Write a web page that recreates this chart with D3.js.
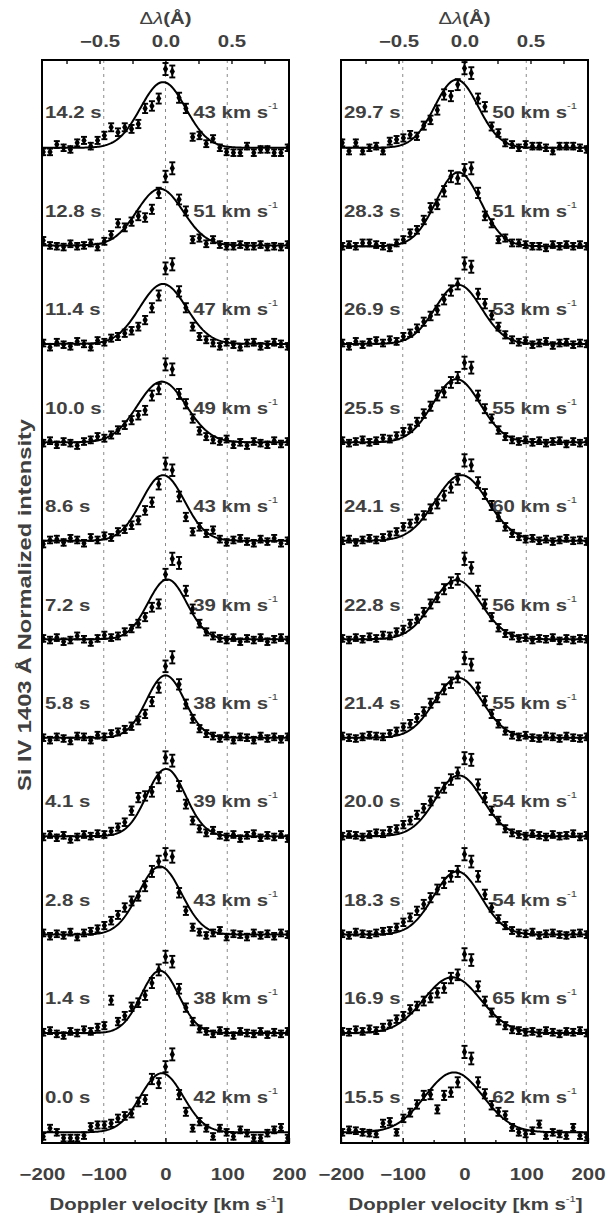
<!DOCTYPE html>
<html>
<head>
<meta charset="UTF-8">
<script src="https://cdn.jsdelivr.net/npm/d3@7"></script>
<style>
    body { margin: 0; background: #fff; }
    text { font-family: "Liberation Sans", Arial, sans-serif; }
</style>
</head>
<body>
<svg id="chart" width="606" height="1222"></svg>
<script>
// Doppler velocity grid of the spectra (km/s)
var velocity = [-198, -187, -176, -165, -154, -143, -132, -121, -110, -99, -88, -77, -66, -55, -44, -33, -22, -11, 0,
    11, 22, 33, 44, 55, 66, 77, 88, 99, 110, 121, 132, 143, 154, 165, 176, 187, 198];

// left panel, top to bottom
var leftTimes = ["14.2 s", "12.8 s", "11.4 s", "10.0 s", "8.6 s", "7.2 s", "5.8 s", "4.1 s", "2.8 s", "1.4 s", "0.0 s"];
var leftWidths = [43, 51, 47, 49, 43, 39, 38, 39, 43, 38, 42];
// gaussian fits: centre, peak, full width at half maximum (km/s), continuum
var leftCenters = [-4, -9, -4, -6, -4, 3, 0, 1, -9, -9, -6];
var leftAmps = [0.80, 0.69, 0.73, 0.74, 0.80, 0.73, 0.76, 0.82, 0.83, 0.76, 0.72];
var leftFwhm = [86, 88, 89, 93, 82, 74, 72, 74, 82, 72, 82];
var leftBase = [0, 0.01, 0.01, 0.01, 0.01, 0.01, 0.01, 0.01, 0.01, 0.01, 0];

// right panel, top to bottom
var rightTimes = ["29.7 s", "28.3 s", "26.9 s", "25.5 s", "24.1 s", "22.8 s", "21.4 s", "20.0 s", "18.3 s", "16.9 s", "15.5 s"];
var rightWidths = [50, 51, 53, 55, 60, 56, 55, 54, 54, 65, 62];
var rightCenters = [-13, -10, -10, -13, -5, -13, -10, -9, -12, -20, -17];
var rightAmps = [0.83, 0.90, 0.72, 0.77, 0.80, 0.72, 0.73, 0.74, 0.77, 0.68, 0.73];
var rightFwhm = [83, 85, 88, 91, 100, 93, 91, 90, 90, 108, 110];
var rightBase = [0, 0, 0.01, 0.01, 0.01, 0.01, 0.01, 0.01, 0.01, 0.01, 0];

// normalized intensities, left panel
var s142 = [-0.05, -0.05, 0.04, 0.00, -0.02, 0.06, 0.09, 0.02, 0.09, 0.15, 0.25, 0.19, 0.25, 0.23, 0.29, 0.48, 0.51, 0.60, 0.96,
    0.93, 0.61, 0.48, 0.13, 0.15, 0.05, 0.11, 0.00, -0.05, -0.06, -0.06, 0.02, -0.06, -0.02, -0.02, -0.06, -0.06, 0.00];
var s128 = [0.07, 0.01, 0.00, -0.01, 0.03, 0.00, 0.01, 0.04, -0.01, 0.06, 0.14, 0.28, 0.23, 0.30, 0.37, 0.35, 0.45, 0.65, 0.85,
    0.95, 0.57, 0.43, 0.08, 0.10, 0.03, 0.08, 0.02, 0.00, 0.00, 0.02, 0.00, 0.00, 0.02, -0.01, 0.00, -0.01, 0.02];
var s114 = [0.02, -0.03, 0.03, 0.00, -0.02, 0.04, 0.01, -0.03, 0.05, 0.03, 0.08, 0.10, 0.14, 0.17, 0.22, 0.30, 0.45, 0.60, 0.93,
    0.98, 0.65, 0.45, 0.22, 0.10, 0.06, 0.02, -0.02, 0.03, 0.00, -0.03, 0.02, 0.03, -0.02, 0.00, 0.03, 0.01, -0.02];
var s100 = [0.00, 0.03, -0.02, 0.02, 0.00, -0.03, 0.02, 0.04, 0.08, 0.06, 0.10, 0.16, 0.22, 0.28, 0.34, 0.40, 0.58, 0.66, 0.96,
    0.90, 0.60, 0.48, 0.30, 0.15, 0.08, 0.04, 0.02, 0.05, -0.02, 0.01, -0.03, 0.02, 0.00, -0.02, 0.03, -0.01, 0.02];
var s086 = [-0.03, 0.02, 0.03, -0.01, 0.04, 0.02, -0.02, 0.05, 0.02, 0.07, 0.05, 0.12, 0.15, 0.20, 0.26, 0.38, 0.48, 0.70, 0.95,
    0.87, 0.55, 0.30, 0.12, 0.18, 0.10, 0.14, 0.03, -0.01, 0.02, 0.04, 0.00, -0.02, 0.03, 0.00, 0.04, -0.02, 0.01];
var s072 = [0.02, 0.00, 0.03, -0.02, 0.00, 0.05, 0.01, -0.03, 0.02, 0.06, 0.03, 0.05, 0.10, 0.14, 0.20, 0.28, 0.40, 0.44, 0.80,
    0.99, 0.94, 0.60, 0.38, 0.20, 0.10, 0.05, 0.02, 0.00, 0.03, -0.02, 0.02, 0.00, 0.03, -0.02, 0.01, 0.03, 0.00];
var s058 = [0.01, -0.02, 0.02, 0.00, -0.03, 0.03, 0.02, -0.02, 0.04, 0.02, 0.06, 0.08, 0.11, 0.15, 0.22, 0.30, 0.45, 0.62, 0.88,
    0.99, 0.66, 0.42, 0.24, 0.12, 0.06, 0.03, 0.00, 0.03, -0.02, 0.02, 0.01, -0.02, 0.03, 0.00, 0.02, -0.01, 0.02];
var s041 = [0.00, 0.03, -0.01, 0.02, -0.03, 0.00, 0.03, 0.01, 0.04, 0.03, 0.07, 0.12, 0.18, 0.32, 0.48, 0.50, 0.55, 0.72, 0.97,
    0.93, 0.62, 0.40, 0.20, 0.10, 0.05, 0.08, 0.02, 0.00, 0.03, -0.02, 0.02, 0.04, -0.01, 0.02, 0.00, 0.03, -0.02];
var s028 = [0.03, -0.01, 0.02, 0.00, 0.04, -0.02, 0.03, 0.05, 0.08, 0.12, 0.18, 0.25, 0.34, 0.42, 0.48, 0.60, 0.78, 0.90, 0.99,
    0.96, 0.52, 0.30, 0.10, 0.04, 0.00, 0.03, 0.06, -0.02, 0.02, 0.01, -0.02, 0.03, 0.00, 0.02, -0.01, 0.03, 0.01];
var s014 = [0.02, 0.04, 0.00, -0.02, 0.03, 0.01, 0.05, 0.03, 0.08, 0.10, 0.41, 0.15, 0.22, 0.33, 0.38, 0.47, 0.62, 0.78, 0.94,
    0.88, 0.55, 0.32, 0.15, 0.06, 0.03, 0.00, 0.04, 0.02, -0.02, 0.03, 0.01, 0.00, 0.03, -0.01, 0.02, 0.00, 0.03];
var s000 = [-0.05, 0.05, 0.00, -0.07, -0.07, -0.07, -0.04, 0.07, 0.09, 0.09, 0.11, 0.17, 0.20, 0.23, 0.37, 0.40, 0.65, 0.60, 0.80,
    0.95, 0.46, 0.25, 0.05, 0.13, 0.05, -0.05, 0.05, 0.00, -0.05, 0.03, -0.01, -0.07, -0.07, -0.01, 0.03, 0.06, -0.07];

// normalized intensities, right panel
var s297 = [0.06, -0.04, 0.06, -0.04, 0.00, 0.02, -0.04, 0.08, 0.10, 0.12, 0.16, 0.14, 0.27, 0.34, 0.46, 0.65, 0.63, 0.77, 0.97,
    0.91, 0.60, 0.50, 0.26, 0.18, 0.06, 0.04, 0.00, 0.04, 0.02, 0.02, 0.00, -0.04, 0.02, 0.02, 0.02, 0.00, -0.02];
var s283 = [0.00, 0.02, 0.00, 0.04, 0.04, 0.02, 0.00, -0.02, 0.04, 0.08, 0.16, 0.20, 0.32, 0.47, 0.51, 0.67, 0.85, 0.83, 0.93,
    0.95, 0.65, 0.37, 0.28, 0.08, 0.10, 0.04, 0.04, 0.02, 0.00, 0.00, -0.02, 0.02, 0.00, 0.02, 0.00, 0.02, 0.00];
var s269 = [0.02, -0.02, 0.04, 0.00, 0.03, 0.05, 0.02, 0.06, 0.04, 0.10, 0.14, 0.20, 0.28, 0.35, 0.42, 0.55, 0.66, 0.74, 0.99,
    0.95, 0.62, 0.50, 0.36, 0.22, 0.12, 0.06, 0.03, 0.05, 0.00, 0.02, 0.04, -0.01, 0.02, 0.03, 0.00, 0.02, 0.01];
var s255 = [0.03, 0.00, 0.02, 0.04, 0.01, 0.03, 0.06, 0.05, 0.09, 0.14, 0.18, 0.26, 0.36, 0.45, 0.58, 0.62, 0.74, 0.80, 0.98,
    0.92, 0.58, 0.42, 0.30, 0.16, 0.08, 0.04, 0.02, 0.04, 0.01, 0.03, 0.00, 0.02, 0.03, -0.01, 0.02, 0.00, 0.02];
var s241 = [0.01, 0.03, -0.01, 0.02, 0.04, 0.02, 0.05, 0.08, 0.12, 0.18, 0.22, 0.28, 0.32, 0.40, 0.46, 0.56, 0.66, 0.76, 0.99,
    0.93, 0.72, 0.58, 0.44, 0.30, 0.18, 0.10, 0.06, 0.03, 0.04, 0.01, 0.03, 0.00, 0.02, 0.04, 0.01, 0.02, 0.00];
var s228 = [0.02, 0.00, 0.03, 0.01, 0.04, 0.02, 0.06, 0.05, 0.10, 0.13, 0.20, 0.26, 0.34, 0.44, 0.52, 0.62, 0.70, 0.74, 0.99,
    0.88, 0.60, 0.44, 0.28, 0.15, 0.08, 0.05, 0.02, 0.03, 0.00, 0.02, 0.01, 0.03, -0.01, 0.02, 0.00, 0.02, 0.01];
var s214 = [0.03, 0.01, 0.00, 0.02, 0.04, 0.03, 0.02, 0.06, 0.09, 0.14, 0.18, 0.25, 0.33, 0.43, 0.50, 0.60, 0.68, 0.75, 0.98,
    0.90, 0.62, 0.46, 0.30, 0.18, 0.09, 0.04, 0.02, 0.04, 0.01, 0.00, 0.03, 0.02, 0.00, 0.03, 0.01, 0.00, 0.02];
var s200 = [0.01, 0.03, 0.02, 0.00, 0.03, 0.05, 0.04, 0.08, 0.10, 0.15, 0.20, 0.27, 0.35, 0.44, 0.54, 0.60, 0.70, 0.78, 0.96,
    0.94, 0.64, 0.48, 0.32, 0.20, 0.10, 0.05, 0.03, 0.01, 0.04, 0.02, 0.00, 0.03, 0.01, 0.02, 0.04, 0.00, 0.02];
var s183 = [0.02, 0.00, 0.04, 0.02, 0.01, 0.03, 0.05, 0.06, 0.10, 0.16, 0.22, 0.30, 0.38, 0.46, 0.56, 0.64, 0.72, 0.78, 0.99,
    0.90, 0.72, 0.50, 0.34, 0.20, 0.12, 0.06, 0.03, 0.02, 0.04, 0.00, 0.02, 0.03, 0.01, 0.00, 0.02, 0.03, 0.01];
var s169 = [0.03, 0.02, 0.05, 0.03, 0.06, 0.04, 0.08, 0.12, 0.18, 0.22, 0.30, 0.34, 0.40, 0.44, 0.50, 0.56, 0.68, 0.72, 0.97,
    0.90, 0.58, 0.40, 0.26, 0.16, 0.10, 0.05, 0.04, 0.02, 0.03, 0.01, 0.04, 0.02, 0.00, 0.03, 0.02, 0.04, 0.01];
var s155 = [0.00, 0.03, 0.02, 0.00, -0.01, -0.02, 0.11, 0.13, 0.00, 0.17, 0.24, 0.34, 0.45, 0.46, 0.28, 0.45, 0.49, 0.61, 0.98,
    0.90, 0.61, 0.47, 0.33, 0.25, 0.21, 0.06, 0.00, -0.02, 0.02, 0.10, -0.04, 0.00, -0.02, -0.04, 0.06, -0.04, -0.06];

var leftSpectra = [s142, s128, s114, s100, s086, s072, s058, s041, s028, s014, s000];
var rightSpectra = [s297, s283, s269, s255, s241, s228, s214, s200, s183, s169, s155];

// error bar = errBase + errScale * intensity
var errBase = 0.04, errScale = 0.035;
var offsetStep = 1.2;
var lambda0 = 1402.77, cLight = 299792.458;

var svg = d3.select("#chart");
var panelTop = 60, panelBottom = 1143;
var panels = [
    {x0: 42, x1: 289, times: leftTimes, widths: leftWidths, centers: leftCenters, amps: leftAmps, fwhm: leftFwhm, base: leftBase, spectra: leftSpectra},
    {x0: 341, x1: 588, times: rightTimes, widths: rightWidths, centers: rightCenters, amps: rightAmps, fwhm: rightFwhm, base: rightBase, spectra: rightSpectra}
];

var y = d3.scaleLinear().domain([-0.13, 13.07]).range([panelBottom, panelTop]);
var textCol = "#404040";
var stretch = 1.25;   // the figure's lettering is wide

panels.forEach(function(p, pi) {
    var x = d3.scaleLinear().domain([-200, 200]).range([p.x0, p.x1]);
    var lam = d3.scaleLinear()
        .domain([-200 * lambda0 / cLight, 200 * lambda0 / cLight])
        .range([p.x0, p.x1]);
    var g = svg.append("g");

    var clipId = "clip" + pi;
    svg.append("clipPath").attr("id", clipId)
        .append("rect")
        .attr("x", p.x0).attr("y", panelTop)
        .attr("width", p.x1 - p.x0).attr("height", panelBottom - panelTop);

    // dashed guides
    g.selectAll(".guide")
        .data([-100, 0, 100])
        .enter().append("line")
        .attr("x1", function(d) { return x(d); })
        .attr("x2", function(d) { return x(d); })
        .attr("y1", panelTop).attr("y2", panelBottom)
        .attr("stroke", "#8a8a8a")
        .attr("stroke-width", 1)
        .attr("stroke-dasharray", "3,4");

    // bottom axis
    var bot = g.append("g")
        .attr("transform", "translate(0," + panelBottom + ")")
        .call(d3.axisBottom(x).tickValues([-200, -100, 0, 100, 200]).tickSize(-5).tickPadding(25));
    g.append("g")
        .attr("transform", "translate(0," + panelBottom + ")")
        .call(d3.axisBottom(x).tickValues([-150, -50, 50, 150]).tickSize(-3).tickFormat(""));

    // top axis in wavelength
    var top = g.append("g")
        .attr("transform", "translate(0," + panelTop + ")")
        .call(d3.axisTop(lam).tickValues([-0.5, 0, 0.5]).tickSize(-4).tickPadding(13.5).tickFormat(d3.format(".1f")));
    g.append("g")
        .attr("transform", "translate(0," + panelTop + ")")
        .call(d3.axisTop(lam).tickValues([-0.75, -0.25, 0.25, 0.75]).tickSize(-4).tickFormat(""));

    g.selectAll(".domain").remove();
    g.selectAll(".tick line").attr("stroke", "#000").attr("stroke-width", 1.3);
    [bot, top].forEach(function(ax) {
        ax.selectAll("text")
            .attr("transform", "scale(" + stretch + ",1)")
            .attr("font-size", 16.3)
            .attr("font-weight", "bold")
            .attr("font-family", "Liberation Sans, Arial, sans-serif")
            .attr("fill", textCol);
    });

    // axis titles
    var mid = (p.x0 + p.x1) / 2;
    var tt = g.append("text")
        .attr("transform", "translate(" + mid + ",24) scale(" + stretch + ",1)")
        .attr("text-anchor", "middle")
        .attr("font-size", 16.3)
        .attr("fill", textCol);
    tt.append("tspan").text("\u0394");
    tt.append("tspan").attr("font-style", "italic").text("\u03bb");
    tt.append("tspan").attr("font-weight", "bold").text("(\u00c5)");

    var bt = g.append("text")
        .attr("transform", "translate(" + (mid + 1) + ",1210) scale(" + stretch + ",1)")
        .attr("text-anchor", "middle")
        .attr("font-size", 16.3)
        .attr("font-weight", "bold")
        .attr("fill", textCol);
    bt.append("tspan").text("Doppler velocity [km s");
    bt.append("tspan").attr("font-size", 9).attr("font-weight", "normal").attr("dy", -8).text("-1");
    bt.append("tspan").attr("dy", 8).text("]");

    var plot = g.append("g").attr("clip-path", "url(#" + clipId + ")");
    var vfit = d3.range(-200, 201, 2);

    p.spectra.forEach(function(spec, j) {
        var off = (p.spectra.length - 1 - j) * offsetStep;
        var sig = p.fwhm[j] / (2 * Math.sqrt(2 * Math.log(2)));
        var pts = spec.map(function(v, i) { return {v: velocity[i], I: v + off, e: errBase + errScale * Math.max(v, 0)}; });

        // gaussian fit
        plot.append("path")
            .datum(vfit)
            .attr("fill", "none")
            .attr("stroke", "#000")
            .attr("stroke-width", 2)
            .attr("d", d3.line()
                .x(function(v) { return x(v); })
                .y(function(v) {
                    var u = (v - p.centers[j]) / sig;
                    return y(off + p.base[j] + p.amps[j] * Math.exp(-0.5 * u * u));
                }));

        // error bars
        var eb = plot.append("g").attr("stroke", "#000").attr("stroke-width", 1.9);
        eb.selectAll(".bar").data(pts).enter().append("line")
            .attr("x1", function(d) { return x(d.v); }).attr("x2", function(d) { return x(d.v); })
            .attr("y1", function(d) { return y(d.I - d.e); }).attr("y2", function(d) { return y(d.I + d.e); });
        eb.selectAll(".capt").data(pts).enter().append("line")
            .attr("x1", function(d) { return x(d.v) - 3; }).attr("x2", function(d) { return x(d.v) + 3; })
            .attr("y1", function(d) { return y(d.I + d.e); }).attr("y2", function(d) { return y(d.I + d.e); });
        eb.selectAll(".capb").data(pts).enter().append("line")
            .attr("x1", function(d) { return x(d.v) - 3; }).attr("x2", function(d) { return x(d.v) + 3; })
            .attr("y1", function(d) { return y(d.I - d.e); }).attr("y2", function(d) { return y(d.I - d.e); });
        plot.append("g").selectAll("path.pt").data(pts).enter().append("path")
            .attr("transform", function(d) { return "translate(" + x(d.v) + "," + y(d.I) + ")"; })
            .attr("d", d3.symbol(d3.symbolDiamond, 24))
            .attr("fill", "#000");

        // labels
        var ly = y(off) - 29.5;
        g.append("text")
            .attr("transform", "translate(" + (p.x0 + 3) + "," + ly + ") scale(" + stretch + ",1)")
            .attr("font-size", 16.3)
            .attr("font-weight", "bold")
            .attr("fill", textCol)
            .text(p.times[j]);
        var wl = g.append("text")
            .attr("transform", "translate(" + (p.x1 - 11) + "," + ly + ") scale(" + stretch + ",1)")
            .attr("text-anchor", "end")
            .attr("font-size", 16.3)
            .attr("font-weight", "bold")
            .attr("fill", textCol);
        wl.append("tspan").text(p.widths[j] + " km s");
        wl.append("tspan").attr("font-size", 9).attr("font-weight", "normal").attr("dy", -9).text("-1");
    });

    // frame
    g.append("rect")
        .attr("x", p.x0).attr("y", panelTop)
        .attr("width", p.x1 - p.x0).attr("height", panelBottom - panelTop)
        .attr("fill", "none")
        .attr("stroke", "#000")
        .attr("stroke-width", 2);
});

// y axis title
svg.append("text")
    .attr("transform", "translate(31,605) rotate(-90)")
    .attr("text-anchor", "middle")
    .attr("font-size", 19)
    .attr("font-weight", "bold")
    .attr("fill", textCol)
    .attr("textLength", 372)
    .attr("lengthAdjust", "spacingAndGlyphs")
    .text("Si IV 1403 \u00c5 Normalized intensity");
</script>
</body>
</html>
